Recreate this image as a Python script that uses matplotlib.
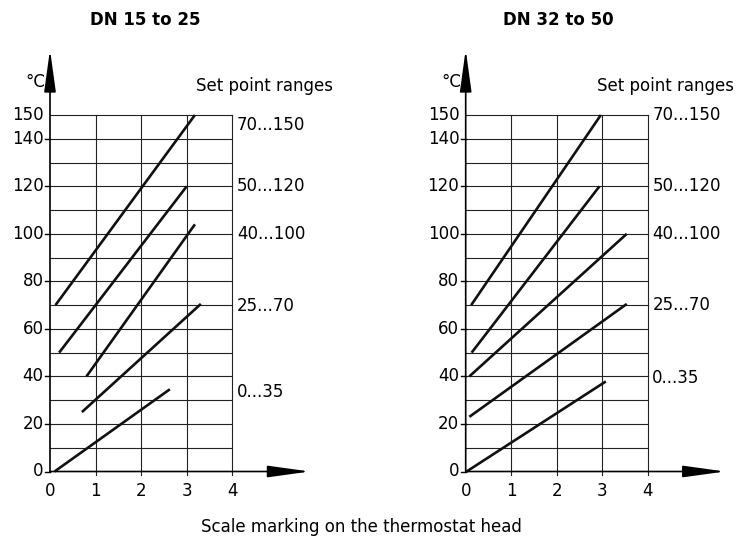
import matplotlib.pyplot as plt

plt.rcParams['font.family'] = ['DejaVu Sans']

W, H = 744, 540

titles = ['DN 15 to 25', 'DN 32 to 50']
range_names = ['70...150', '50...120', '40...100', '25...70', '0...35']

# scale marking (start, end) and temperature (start, end) per set point range
left_x = [[0.12, 3.18], [0.2, 3.0], [0.8, 3.18], [0.7, 3.31], [0.1, 2.63]]
left_y = [[70, 150], [50, 120], [40, 104], [25, 70.5], [0, 34.6]]
right_x = [[0.12, 2.97], [0.13, 2.94], [0.08, 3.54], [0.08, 3.54], [0.02, 3.08]]
right_y = [[70, 150], [50, 120], [40, 100], [23, 70.5], [0, 37.9]]

# label heights of the range names at the right side of each panel
left_label_y = [146, 120, 100, 69.5, 33.5]
right_label_y = [150, 120, 100, 70, 39.3]

y_ticks = [0, 20, 40, 60, 80, 100, 120, 140, 150]
x_ticks = [0, 1, 2, 3, 4]
fs = 12


def draw_panel(ax, title, xs, ys, label_y):
    ax.set_xlim(0, 4)
    ax.set_ylim(0, 150)
    ax.axis('off')
    # grid
    for v in range(10, 151, 10):
        ax.plot([0, 4], [v, v], color='#222222', lw=0.8, clip_on=False)
    for v in x_ticks[1:]:
        ax.plot([v, v], [-1.5, 150], color='#222222', lw=0.8, clip_on=False)
    # axes with arrows
    ax.annotate('', xy=(0, 177.5), xytext=(0, 0), xycoords='data',
                arrowprops=dict(arrowstyle='-|>,head_length=26,head_width=3.6',
                                mutation_scale=1, color='black', lw=1.2,
                                shrinkA=0, shrinkB=0), annotation_clip=False)
    ax.annotate('', xy=(5.7, 0), xytext=(0, 0), xycoords='data',
                arrowprops=dict(arrowstyle='-|>,head_length=26,head_width=3.6',
                                mutation_scale=1, color='black', lw=1.2,
                                shrinkA=0, shrinkB=0), annotation_clip=False)
    # tick marks and labels
    for v in y_ticks:
        if v != 150:
            ax.plot([-0.11, 0], [v, v], color='black', lw=1.0, clip_on=False)
        ax.text(-0.14, v, str(v), ha='right', va='center', fontsize=fs)
    for v in x_ticks:
        ax.text(v, -8.3, str(v), ha='center', va='center', fontsize=fs)
    ax.text(-0.1, 164, '°C', ha='right', va='center', fontsize=fs)
    # set point range lines
    for x, y in zip(xs, ys):
        ax.plot(x, y, color='#111111', lw=1.9, solid_capstyle='butt', clip_on=False)
    for name, ly in zip(range_names, label_y):
        ax.text(4.1, ly, name, ha='left', va='center', fontsize=fs)
    ax.text(3.2 if title == titles[0] else 2.88, 162, 'Set point ranges',
            ha='left', va='center', fontsize=fs)


fig = plt.figure(figsize=(W / 100, H / 100), dpi=100)

y0, y150 = 471.5, 115
ax1 = fig.add_axes([50 / W, (H - y0) / H, 182.3 / W, (y0 - y150) / H])
ax2 = fig.add_axes([465.7 / W, (H - y0) / H, 182 / W, (y0 - y150) / H])

draw_panel(ax1, titles[0], left_x, left_y, left_label_y)
draw_panel(ax2, titles[1], right_x, right_y, right_label_y)

fig.text(145 / W, 1 - 20 / H, titles[0], ha='center', va='center',
         fontsize=fs, fontweight='bold')
fig.text(558 / W, 1 - 20 / H, titles[1], ha='center', va='center',
         fontsize=fs, fontweight='bold')
fig.text(361 / W, 1 - 527 / H, 'Scale marking on the thermostat head',
         ha='center', va='center', fontsize=fs)

fig.savefig('out.png', dpi=100)
plt.close(fig)
